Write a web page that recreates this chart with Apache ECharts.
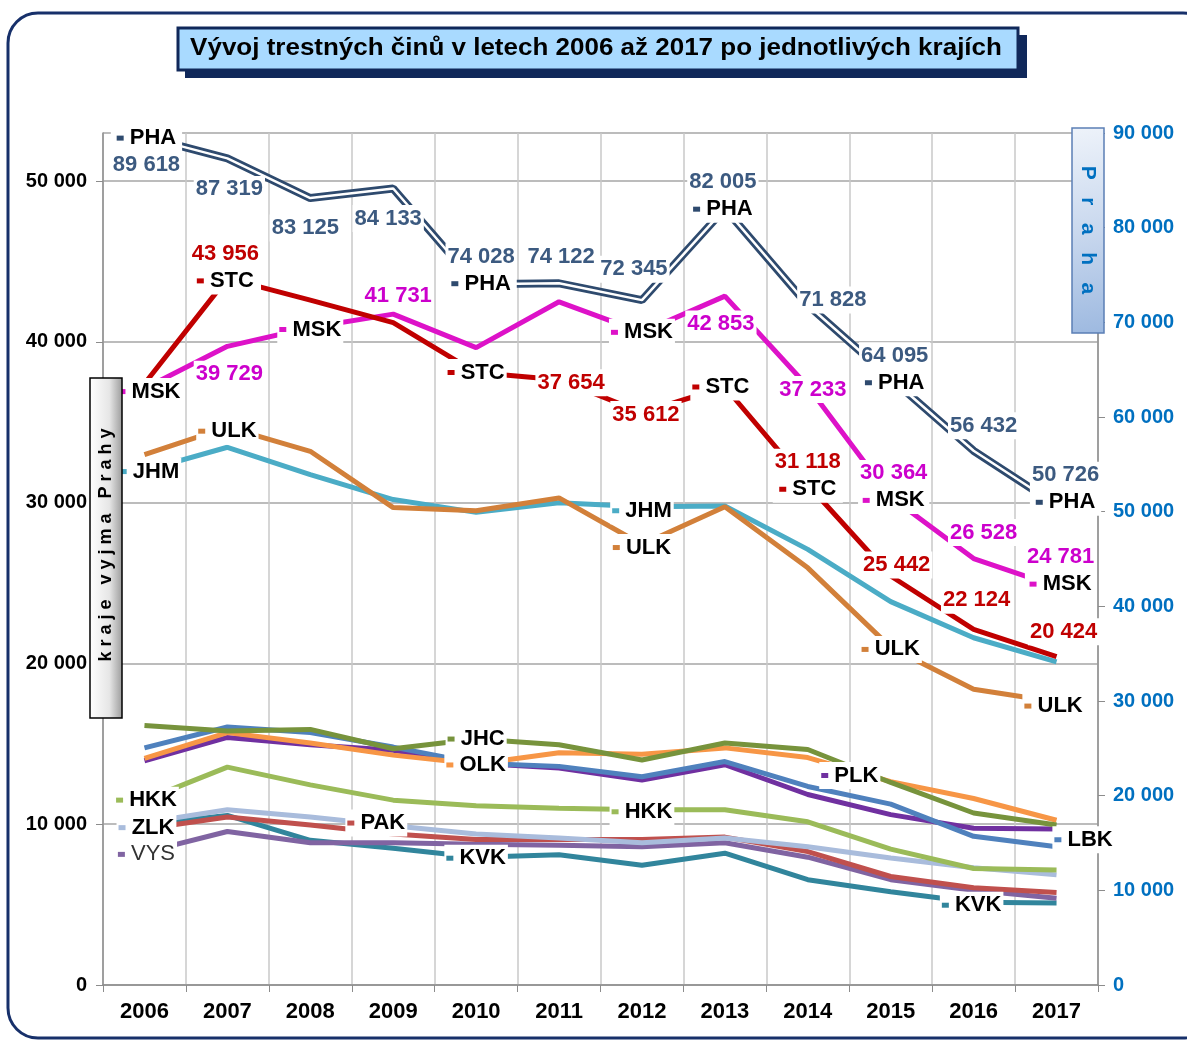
<!DOCTYPE html>
<html>
<head>
<meta charset="utf-8">
<title>Vývoj trestných činů 2006–2017</title>
<script src="https://cdn.jsdelivr.net/npm/echarts@6/dist/echarts.min.js"></script>
<style>
  html, body { margin: 0; padding: 0; background: #fff; }
  #chart { width: 1187px; height: 1040px; }
</style>
</head>
<body>
<div id="chart"></div>
<script>
// ---- data ----
const years = ["2006", "2007", "2008", "2009", "2010", "2011", "2012", "2013", "2014", "2015", "2016", "2017"];

// Praha goes on the right axis
const pha = [89618, 87319, 83125, 84133, 74028, 74122, 72345, 82005, 71828, 64095, 56432, 50726];

// other regions, left axis
const stc = [37400, 43956, 42600, 41200, 38100, 37654, 35612, 37200, 31118, 25442, 22124, 20424];
const msk = [37100, 39729, 40900, 41731, 39650, 42500, 40600, 42853, 37233, 30364, 26528, 24781];
const ulk = [33000, 34700, 33200, 29700, 29500, 30300, 27400, 29750, 25950, 21000, 18400, 17600];
const jhm = [32000, 33450, 31750, 30200, 29400, 30000, 29750, 29800, 27100, 23850, 21600, 20100];
const jhc = [16150, 15800, 15900, 14700, 15300, 14950, 14000, 15050, 14650, 12600, 10700, 9950];
const olk = [14100, 15700, 15050, 14300, 13750, 14450, 14350, 14750, 14150, 12650, 11600, 10250];
const lbk = [14750, 16050, 15700, 14800, 13800, 13600, 12950, 13900, 12350, 11250, 9250, 8600];
const plk = [13950, 15400, 14950, 14600, 13800, 13500, 12750, 13700, 11850, 10600, 9750, 9700];
const hkk = [11500, 13550, 12450, 11500, 11150, 11000, 10900, 10900, 10150, 8450, 7250, 7150];
const zlk = [10100, 10900, 10450, 9900, 9400, 9150, 8850, 9150, 8600, 7900, 7300, 6850];
const pak = [9700, 10450, 9950, 9400, 9050, 9050, 9050, 9200, 8300, 6750, 6050, 5750];
const vys = [8250, 9550, 8850, 8850, 8750, 8700, 8600, 8850, 7950, 6550, 5900, 5400];
const kvk = [10000, 10550, 9000, 8500, 7950, 8100, 7450, 8200, 6550, 5800, 5150, 5100];

const leftTicks = [0, 10000, 20000, 30000, 40000, 50000];
const rightTicks = [0, 10000, 20000, 30000, 40000, 50000, 60000, 70000, 80000, 90000];

const FONT = "'Liberation Sans', Arial, sans-serif";

// thousands with a space: 43956 -> "43 956"
function fmt(v) {
  return String(v).replace(/\B(?=(\d{3})+(?!\d))/g, " ");
}

// series look + which points carry a label
// label kinds: v = value, n = name, vn = value over name, nv = name over value
const regions = [
  { name: "KVK", data: kvk, color: "#31859C", labels: [[4, "n", 0, 1], [10, "n", -2, 3]] },
  { name: "VYS", data: vys, color: "#8064A2", thin: true, labels: [[0, "n", 2, 2]] },
  { name: "PAK", data: pak, color: "#C0504D", labels: [[2, "n", 66, -2]] },
  { name: "ZLK", data: zlk, color: "#A9BCDC", labels: [[0, "n", 2, 5]] },
  { name: "HKK", data: hkk, color: "#9BBB59", labels: [[0, "n", 2, 0], [6, "n", 0, 2]] },
  { name: "PLK", data: plk, color: "#7030A0", labels: [[8, "n", 42, -19]] },
  { name: "LBK", data: lbk, color: "#4F81BD", labels: [[11, "n", 27, -7]] },
  { name: "OLK", data: olk, color: "#F79646", labels: [[4, "n", 0, 1]] },
  { name: "JHC", data: jhc, color: "#77933C", labels: [[4, "n", 0, 0]] },
  { name: "JHM", data: jhm, color: "#4BACC6", labels: [[0, "n", 5, 1], [6, "n", 0, 4]] },
  { name: "ULK", data: ulk, color: "#D2803A", labels: [[1, "n", 0, 4], [6, "n", 0, 3], [9, "n", 0, 2], [11, "n", -3, 4]] },
  { name: "MSK", data: msk, color: "#DD12C8", valueColor: "#CC00CC",
    labels: [[0, "n", 5, 3], [1, "v", 2, 28], [2, "n", 0, 2], [3, "v", 5, -18], [6, "n", 0, 0],
             [7, "v", -4, 28], [8, "v", 5, 3], [9, "vn", 3, -10], [10, "v", 10, -26], [11, "vn", 4, -16]] },
  { name: "STC", data: stc, color: "#C00000", valueColor: "#C00000",
    labels: [[1, "vn", -2, -11], [4, "n", 0, 0], [5, "v", 12, 3], [6, "v", 4, 2], [7, "n", -4, 0],
             [8, "vn", 0, -9], [9, "v", 6, -11], [10, "v", 3, -29], [11, "v", 7, -25]] }
];

const phaLabels = [[0, "nv", 2, 15], [1, "v", 2, 31], [2, "v", -5, 30], [3, "v", -5, 30],
  [4, "vn", 5, -14], [5, "v", 2, -26], [6, "v", -8, -31], [7, "vn", -2, -13], [8, "v", 25, -5],
  [9, "vn", 4, -9], [10, "v", 10, -25], [11, "vn", 9, -16]];

function richFor(color, valueColor, thin) {
  return {
    k: { width: 7, height: 5, backgroundColor: color, padding: 0 },
    n: { color: thin ? "#333" : "#000", fontWeight: thin ? "normal" : "bold", fontSize: 22, fontFamily: FONT, lineHeight: 27 },
    v: { color: valueColor || color, fontWeight: "bold", fontSize: 22, fontFamily: FONT, lineHeight: 27 }
  };
}

function labelText(kind, name, value) {
  const n = "{k|}{n| " + name + "}";
  const v = "{v|" + fmt(value) + "}";
  if (kind === "v") return v;
  if (kind === "n") return n;
  if (kind === "vn") return v + "\n" + n;
  return n + "\n" + v;
}

function buildData(values, name, labels, rich) {
  return values.map((val, i) => {
    const spec = labels.find(l => l[0] === i);
    if (!spec) return val;
    return {
      value: val,
      label: {
        show: true,
        position: "inside",
        offset: [spec[2], spec[3]],
        formatter: labelText(spec[1], name, val),
        backgroundColor: "#fff",
        padding: [0, 2],
        rich: rich
      }
    };
  });
}

const series = [];

regions.forEach(r => {
  const rich = richFor(r.color, r.valueColor, r.thin);
  series.push({
    name: r.name,
    type: "line",
    yAxisIndex: 0,
    data: buildData(r.data, r.name, r.labels, rich),
    symbol: "circle",
    symbolSize: 0,
    lineStyle: { color: r.color, width: 5 },
    itemStyle: { color: r.color },
    label: { show: false },
    emphasis: { disabled: true },
    z: 3
  });
});

// Praha: double line = thick navy + thin white on top
series.push({
  name: "PHA-outer",
  type: "line",
  yAxisIndex: 1,
  data: pha,
  symbol: "none",
  lineStyle: { color: "#2E4A6E", width: 8 },
  emphasis: { disabled: true },
  z: 3
});
const phaRich = richFor("#2E4A6E", "#3C5A80");
series.push({
  name: "PHA",
  type: "line",
  yAxisIndex: 1,
  data: buildData(pha, "PHA", phaLabels, phaRich),
  symbol: "circle",
  symbolSize: 0,
  lineStyle: { color: "#fff", width: 2.5 },
  itemStyle: { color: "#2E4A6E" },
  emphasis: { disabled: true },
  z: 4
});

const chart = echarts.init(document.getElementById("chart"), null, { renderer: "canvas" });

const option = {
  animation: false,
  backgroundColor: "#fff",
  grid: { left: 103, right: 89, top: 133, bottom: 55, containLabel: false },
  xAxis: {
    type: "category",
    data: years,
    boundaryGap: true,
    axisLine: { lineStyle: { color: "#8C8C8C", width: 1.5 } },
    axisTick: { show: true, length: 7, lineStyle: { color: "#8C8C8C" } },
    splitLine: { show: true, lineStyle: { color: "#C8C8C8", width: 1.5 } },
    axisLabel: { color: "#000", fontWeight: "bold", fontSize: 22, fontFamily: FONT, margin: 16 }
  },
  yAxis: [
    {
      type: "value",
      min: leftTicks[0],
      max: 53000,
      interval: leftTicks[1] - leftTicks[0],
      position: "left",
      axisLine: { show: true, lineStyle: { color: "#8C8C8C", width: 1.5 } },
      axisTick: { show: true, length: 7, lineStyle: { color: "#8C8C8C" } },
      splitLine: { show: true, lineStyle: { color: "#A6A6A6", width: 1.5 } },
      axisLabel: {
        showMaxLabel: false,
        color: "#000", fontWeight: "bold", fontSize: 20, fontFamily: FONT, margin: 16,
        formatter: v => leftTicks.includes(v) ? fmt(v) : ""
      }
    },
    {
      type: "value",
      min: rightTicks[0],
      max: rightTicks[rightTicks.length - 1],
      interval: rightTicks[1] - rightTicks[0],
      position: "right",
      axisLine: { show: true, lineStyle: { color: "#8C8C8C", width: 1.5 } },
      axisTick: { show: true, length: 7, lineStyle: { color: "#8C8C8C" } },
      splitLine: { show: false },
      axisLabel: {
        color: "#0070C0", fontWeight: "bold", fontSize: 20, fontFamily: FONT, margin: 15,
        formatter: v => fmt(v)
      }
    }
  ],
  series: series,
  graphic: [
    // outer rounded frame
    {
      type: "rect", z: 0, silent: true,
      shape: { x: 8, y: 13, width: 1205, height: 1025, r: 30 },
      style: { fill: "none", stroke: "#17306A", lineWidth: 3 }
    },
    // title box with shadow
    {
      type: "rect", z: 10, silent: true,
      shape: { x: 185, y: 35, width: 842, height: 43 },
      style: { fill: "#10285A" }
    },
    {
      type: "rect", z: 11, silent: true,
      shape: { x: 178, y: 28, width: 840, height: 42 },
      style: { fill: "#A9DAFF", stroke: "#10285A", lineWidth: 3 }
    },
    {
      type: "text", z: 12, silent: true,
      x: 596, y: 49, scaleX: 1.13,
      style: {
        text: "Vývoj trestných činů v letech 2006 až 2017 po jednotlivých krajích",
        fill: "#000", font: "bold 23px " + FONT, align: "center", verticalAlign: "middle"
      }
    },
    // left axis name box
    {
      type: "rect", z: 20, silent: true,
      shape: { x: 90, y: 378, width: 32, height: 340 },
      style: {
        fill: new echarts.graphic.LinearGradient(0, 0, 1, 0, [
          { offset: 0, color: "#FFFFFF" }, { offset: 0.6, color: "#E6E6E6" }, { offset: 1, color: "#9A9A9A" }
        ]),
        stroke: "#000", lineWidth: 1.5
      }
    },
    {
      type: "text", z: 21, silent: true,
      x: 106, y: 545, rotation: Math.PI / 2,
      style: {
        text: "k r a j e   v y j m a   P r a h y",
        fill: "#000", font: "bold 18px " + FONT, align: "center", verticalAlign: "middle"
      }
    },
    // right axis name box
    {
      type: "rect", z: 20, silent: true,
      shape: { x: 1072, y: 128, width: 32, height: 205 },
      style: {
        fill: new echarts.graphic.LinearGradient(0, 0, 1, 1, [
          { offset: 0, color: "#EEF3FA" }, { offset: 0.5, color: "#C9D8EE" }, { offset: 1, color: "#9DB9E0" }
        ]),
        stroke: "#5B7FB5", lineWidth: 1.5
      }
    },
    {
      type: "text", z: 21, silent: true,
      x: 1088, y: 230, rotation: -Math.PI / 2,
      style: {
        text: "P   r   a   h   a",
        fill: "#0070C0", font: "bold 21px " + FONT, align: "center", verticalAlign: "middle"
      }
    }
  ]
};

chart.setOption(option);
window.addEventListener("resize", chart.resize);
</script>
</body>
</html>
